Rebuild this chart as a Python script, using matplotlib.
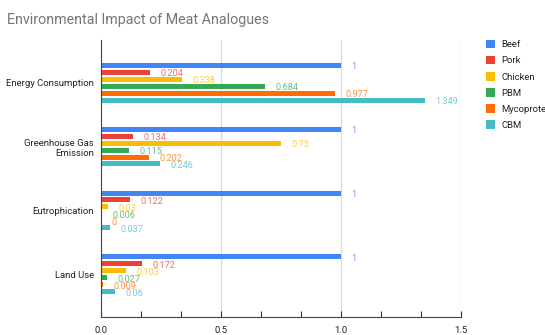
import numpy as np
import matplotlib
matplotlib.use("Agg")
import matplotlib.pyplot as plt
from matplotlib.ticker import MultipleLocator

# ── Data ──────────────────────────────────────────────────────────────────────

categories = ["Energy Consumption", "Greenhouse Gas\nEmission", "Eutrophication", "Land Use"]
series = ["Beef", "Pork", "Chicken", "PBM", "Mycoprotein", "CBM"]

beef = [1, 1, 1, 1]
pork = [0.204, 0.134, 0.122, 0.172]
chicken = [0.338, 0.75, 0.03, 0.103]
pbm = [0.684, 0.115, 0.006, 0.027]
mycoprotein = [0.977, 0.202, 0, 0.009]
cbm = [1.349, 0.246, 0.037, 0.06]

x_ticks = [0.0, 0.5, 1.0, 1.5]

colors = ["#4285F4", "#EA4335", "#FBBC04", "#34A853", "#FF6D01", "#46BDC6"]

# ── Plot ──────────────────────────────────────────────────────────────────────

plt.rcParams["font.family"] = ["Roboto", "DejaVu Sans"]

fig = plt.figure(figsize=(5.45, 3.35), dpi=100)
ax = fig.add_axes([0.1853, 0.0537, 0.8459 - 0.1853, 0.8806 - 0.0537])

values = [beef, pork, chicken, pbm, mycoprotein, cbm]
pos = np.arange(len(categories))
pitch = 0.109
bar_h = 0.078

for k, (name, vals, col) in enumerate(zip(series, values, colors)):
    y = pos + (k - 2.5) * pitch
    ax.barh(y, vals, height=bar_h, color=col, label=name, zorder=3)
    for yi, v in zip(y, vals):
        ax.annotate(f"{v:g}", (v, yi), xytext=(7.5, -1), textcoords="offset points",
                    ha="left", va="center", fontsize=6.6, color=col, alpha=0.75,
                    zorder=4)

ax.set_ylim(len(categories) - 1 + 0.67, -0.67)
ax.set_xlim(0, 1.5)
ax.set_yticks(pos)
ax.set_yticklabels(categories, fontsize=6.8, color="#222222", linespacing=1.25)
ax.tick_params(axis="y", length=0, pad=5)

ax.set_xticks(x_ticks)
ax.set_xticklabels([f"{t:.1f}" for t in x_ticks], fontsize=6.8, color="#222222")
ax.xaxis.set_minor_locator(MultipleLocator(0.5 / 3))
ax.tick_params(axis="x", which="both", direction="in", length=4, width=0.8,
               color="#333333", pad=6.5)

ax.grid(axis="x", color="#d9d9d9", linewidth=0.9, zorder=0)
for side in ("top", "right"):
    ax.spines[side].set_visible(False)
ax.spines["left"].set_color("#444444")
ax.spines["bottom"].set_color("#444444")
ax.spines["left"].set_zorder(5)

fig.text(0.013, 0.94, "Environmental Impact of Meat Analogues", fontsize=10.3,
         color="#757575", ha="left", va="center")

leg = fig.legend(loc="upper left", bbox_to_anchor=(0.884, 0.892), frameon=False,
                 fontsize=6.8, handlelength=1.0, handleheight=1.0,
                 handletextpad=0.7, labelspacing=0.7, borderaxespad=0)
for t in leg.get_texts():
    t.set_color("#222222")

fig.savefig("out.png", dpi=100)
